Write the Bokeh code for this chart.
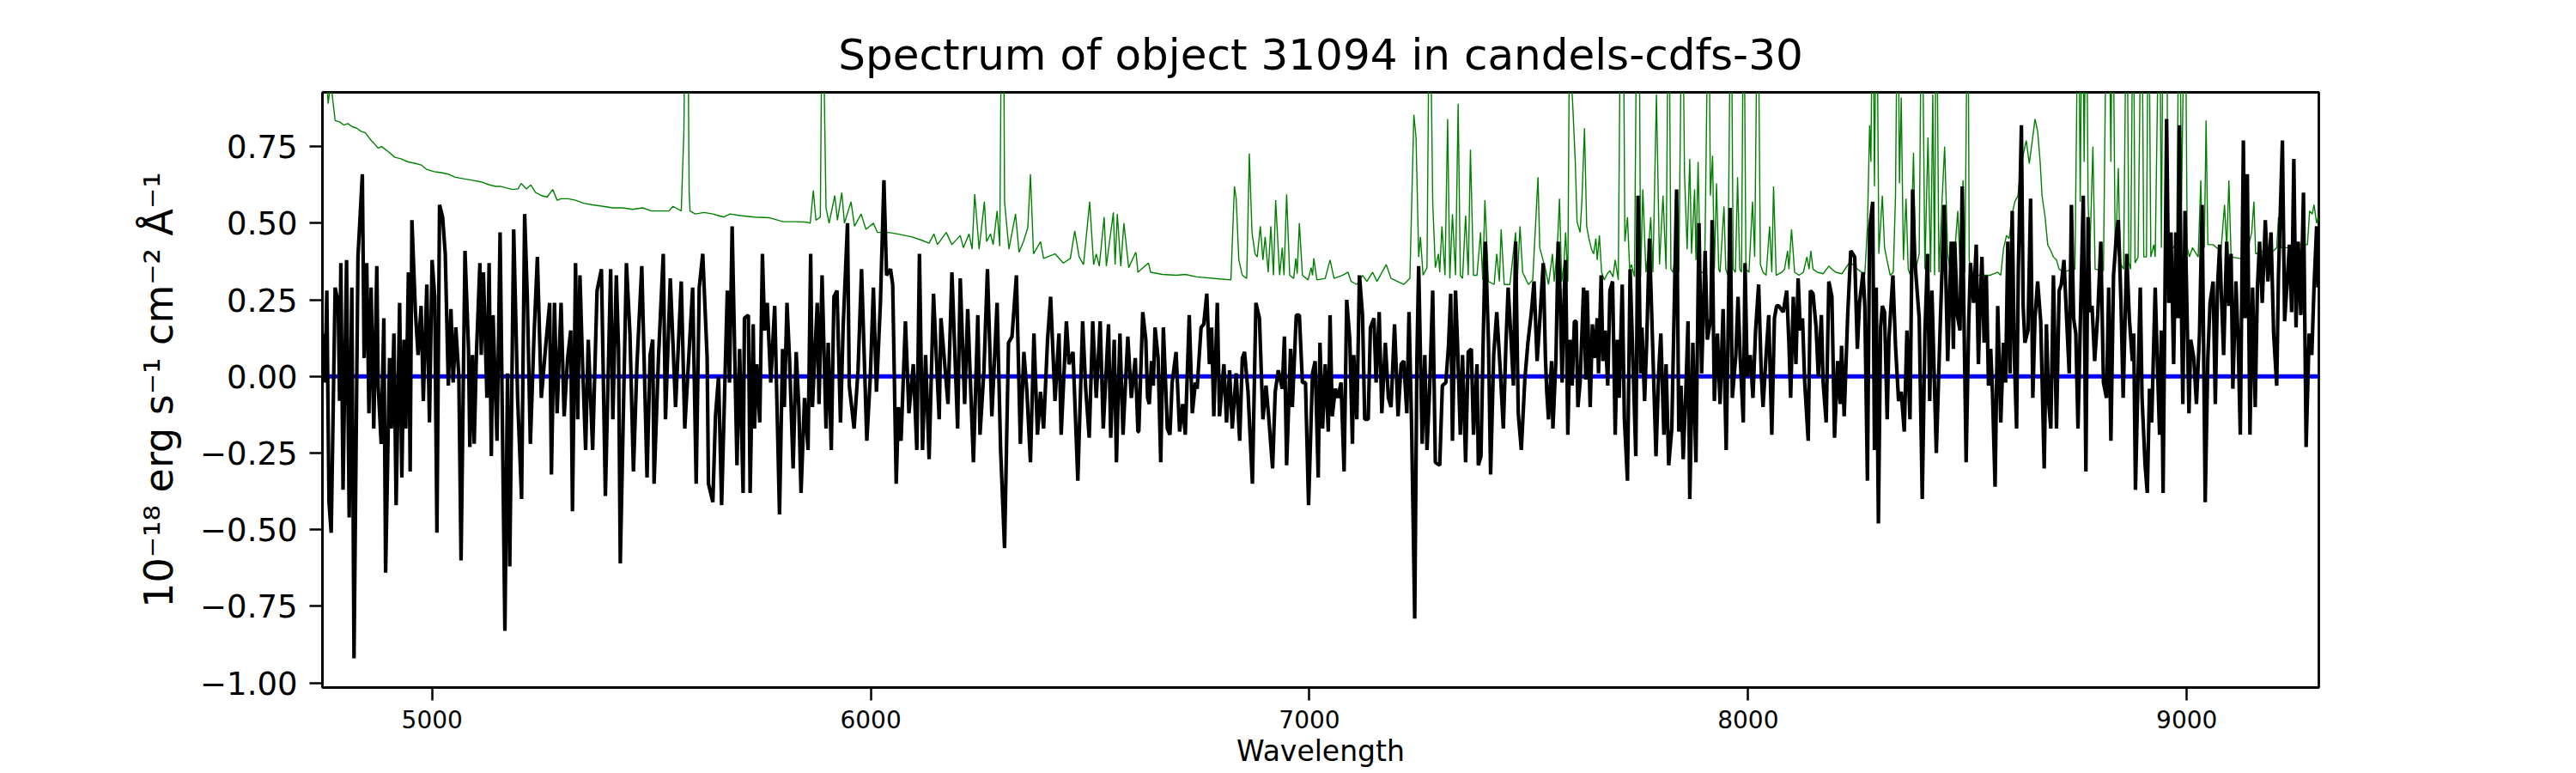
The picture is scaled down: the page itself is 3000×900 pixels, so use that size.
import numpy as np
from bokeh.plotting import figure
from bokeh.models import Range1d, FixedTicker, CustomJSTickFormatter, ColumnDataSource
from bokeh.embed import file_html
from bokeh.resources import INLINE

TITLE = "Spectrum of object 31094 in candels-cdfs-30"
X_LABEL = "Wavelength"
Y_LABEL = "10\u207b\u00b9\u2078 erg s\u207b\u00b9 cm\u207b\u00b2 \u00c5\u207b\u00b9"
X_TICKS = [5000, 6000, 7000, 8000, 9000]
Y_TICKS = [-1.0, -0.75, -0.5, -0.25, 0.0, 0.25, 0.5, 0.75]
X_LIMITS = (4750, 9301)
Y_LIMITS = (-1.015, 0.927)

# object flux (wavelength [A], flux)
flux_4750_5680 = [
(4752,0.14),(4756,-0.02),(4760,0.28),(4765,-0.41),(4770,-0.51),(4779,0.29),(4786,0.24),(4789,-0.08),(4792,0.37),(4797,-0.37),
(4805,0.38),(4811,-0.46),(4817,0.29),(4822,-0.92),(4831,0.39),(4841,0.66),(4845,0.06),(4851,0.37),(4856,-0.12),(4861,0.29),
(4867,-0.17),(4874,0.36),(4877,-0.03),(4884,-0.22),(4890,0.19),(4894,-0.64),(4903,0.06),(4907,-0.17),(4913,0.14),(4918,-0.42),
(4926,0.24),(4931,-0.33),(4936,0.12),(4940,-0.17),(4946,0.34),(4950,-0.31),(4954,0.51),(4962,0.21),(4968,0.07),(4975,0.23),
(4980,-0.08),(4988,0.30),(4994,-0.15),(5000,0.38),(5006,0.26),(5011,-0.51),(5017,0.56),(5024,0.52),(5030,0.40),(5037,-0.03),
(5043,0.22),(5048,-0.02),(5054,0.16),(5061,0.00),(5066,-0.60),(5075,0.41),(5083,0.09),(5086,-0.23),(5092,0.07),(5096,-0.22),
(5101,0.07),(5109,0.37),(5112,0.07),(5117,0.34),(5125,-0.07),(5130,0.37),(5135,-0.26),(5139,0.20),(5148,-0.21),(5155,0.47),
(5166,-0.83),(5172,0.01),(5177,-0.62),(5186,0.48),(5195,-0.07),(5204,-0.40),(5211,0.53),(5217,0.26),(5224,-0.22),(5232,0.12),
(5240,0.39),(5249,-0.07),(5259,0.10),(5268,0.24),(5272,-0.32),(5279,0.24),(5285,-0.12),(5294,0.24),(5301,-0.13),(5309,0.06),
(5316,0.15),(5320,-0.44),(5327,0.37),(5332,-0.14),(5337,0.33),(5343,0.04),(5350,-0.24),(5356,0.12),(5366,-0.24),(5376,0.28),
(5386,0.35),(5395,-0.39),(5407,0.35),(5412,-0.14),(5420,0.33),(5425,0.09),(5429,-0.61),(5443,0.37),(5451,0.14),(5459,-0.31),
(5467,0.04),(5478,0.36),(5490,-0.33),(5497,0.07),(5503,0.12),(5506,-0.35),(5516,0.06),(5527,0.40),(5532,-0.14),(5543,0.32),
(5555,-0.10),(5568,0.31),(5576,-0.17),(5585,0.06),(5594,0.29),(5602,-0.35),(5609,0.29),(5617,0.40),(5627,0.06),(5630,-0.35),
(5640,-0.41),(5646,-0.13),(5653,0.00),(5660,-0.42),(5673,0.28),(5678,-0.02),
]
flux_5680_6610 = [
(5684,0.49),(5695,-0.29),(5701,0.09),(5709,-0.38),(5712,0.19),(5721,0.20),(5725,-0.38),(5732,0.17),(5735,-0.17),(5740,0.04),
(5747,-0.15),(5753,0.40),(5758,0.15),(5764,0.24),(5772,-0.02),(5781,0.23),(5792,-0.45),(5799,0.09),(5803,-0.10),(5809,0.24),
(5815,0.05),(5823,-0.30),(5830,0.08),(5836,-0.10),(5841,-0.38),(5849,-0.07),(5857,-0.24),(5863,0.40),(5867,-0.10),(5878,0.24),
(5882,-0.09),(5889,0.33),(5898,-0.17),(5903,0.11),(5910,-0.24),(5916,0.26),(5923,0.28),(5931,-0.15),(5937,0.16),(5947,0.50),
(5951,-0.03),(5962,-0.17),(5971,0.02),(5979,0.35),(5985,0.07),(5991,-0.21),(5999,0.00),(6006,0.29),(6013,-0.05),(6022,0.24),
(6030,0.64),(6036,0.33),(6045,0.35),(6050,0.30),(6058,-0.35),(6063,-0.10),(6069,-0.21),(6079,0.18),(6087,-0.12),(6097,0.04),
(6105,-0.24),(6111,0.40),(6118,-0.24),(6125,0.07),(6133,-0.27),(6143,0.27),(6156,-0.14),(6160,0.19),(6168,0.05),(6176,-0.09),
(6185,0.34),(6198,-0.17),(6204,0.32),(6214,-0.09),(6221,0.22),(6234,-0.28),(6244,0.20),(6249,-0.19),(6258,0.02),(6266,0.35),
(6276,-0.13),(6288,0.24),(6296,-0.24),(6305,-0.56),(6314,0.11),(6322,0.13),(6332,0.33),(6341,-0.22),(6349,0.08),(6356,-0.05),
(6364,-0.28),(6372,0.14),(6380,-0.19),(6387,-0.05),(6394,-0.17),(6403,0.12),(6410,0.26),(6420,-0.08),(6429,0.14),(6434,-0.19),
(6446,0.18),(6452,0.04),(6461,0.08),(6472,-0.34),(6483,0.18),(6490,-0.04),(6498,-0.20),(6506,0.18),(6514,-0.07),(6523,0.18),
(6530,-0.17),(6542,0.17),(6547,-0.20),(6555,0.12),(6560,-0.28),(6568,0.14),(6575,-0.19),(6586,0.13),(6594,-0.07),(6603,0.06),
(6609,-0.18),
]
flux_6610_7540 = [
(6611,-0.18),(6620,0.21),(6627,0.12),(6631,-0.07),(6635,-0.09),(6640,0.05),(6644,-0.03),(6648,0.16),(6655,0.06),(6661,-0.28),
(6667,0.16),(6672,-0.02),(6676,-0.17),(6682,-0.19),(6687,-0.02),(6696,0.08),(6704,-0.18),(6711,-0.09),(6717,-0.19),(6726,0.20),
(6733,-0.12),(6740,-0.02),(6744,-0.04),(6753,0.16),(6759,0.17),(6766,0.27),(6772,0.04),(6777,0.16),(6782,-0.13),(6790,0.24),
(6795,-0.13),(6805,0.04),(6811,-0.15),(6818,0.02),(6824,-0.17),(6833,0.01),(6841,-0.21),(6847,0.06),(6852,0.08),(6860,-0.05),
(6870,-0.35),(6878,0.24),(6886,0.19),(6894,-0.14),(6901,-0.03),(6907,-0.13),(6916,-0.30),(6922,-0.05),(6929,0.02),(6938,-0.04),
(6943,0.13),(6948,-0.29),(6957,0.09),(6961,-0.10),(6970,0.20),(6977,0.20),(6984,-0.02),(6991,-0.02),(6998,-0.42),(7007,0.01),
(7013,0.05),(7020,-0.33),(7024,0.11),(7030,-0.17),(7036,0.04),(7043,-0.18),(7047,0.20),(7052,-0.13),(7059,-0.04),(7065,-0.07),
(7072,-0.02),(7079,-0.31),(7085,0.25),(7092,0.12),(7098,-0.22),(7101,0.07),(7108,-0.14),(7114,0.33),(7121,0.20),(7126,-0.14),
(7134,-0.14),(7139,0.16),(7147,0.19),(7152,-0.02),(7159,0.21),(7165,-0.12),(7173,0.11),(7180,-0.07),(7186,-0.10),(7194,0.17),
(7202,-0.13),(7209,0.04),(7215,0.05),(7222,-0.12),(7227,0.21),(7233,-0.17),(7240,-0.79),(7245,0.06),(7249,0.36),(7257,-0.22),
(7263,0.07),(7268,-0.24),(7274,-0.04),(7281,0.28),(7287,-0.28),(7297,-0.29),(7303,-0.03),(7311,-0.02),(7317,0.10),(7322,0.27),
(7326,-0.21),(7333,0.28),(7337,0.13),(7344,-0.19),(7349,0.07),(7356,-0.28),(7362,0.08),(7369,0.09),(7374,-0.19),(7382,0.04),
(7385,-0.29),(7391,-0.26),(7396,0.11),(7401,0.44),(7408,0.12),(7413,-0.32),(7420,0.07),(7427,0.21),(7435,0.02),(7442,-0.17),
(7448,0.11),(7453,0.29),(7460,0.11),(7465,-0.03),(7470,0.44),(7476,-0.12),(7483,-0.24),(7491,-0.01),(7498,0.11),(7506,0.21),
(7512,0.31),(7519,0.05),(7525,0.18),(7533,0.37),(7538,0.06),
]
flux_7540_8470 = [
(7541,-0.05),(7545,-0.14),(7552,0.05),(7555,-0.17),(7562,0.06),(7567,0.44),(7571,0.29),(7576,-0.02),(7581,0.28),(7584,0.38),
(7589,-0.19),(7594,0.12),(7599,-0.03),(7604,0.18),(7608,0.18),(7612,-0.10),(7617,-0.02),(7625,0.29),(7630,-0.01),(7633,0.28),
(7640,-0.10),(7645,0.17),(7650,0.06),(7656,0.19),(7659,0.01),(7665,0.33),(7669,0.05),(7674,0.15),(7680,-0.03),(7685,0.28),
(7691,0.31),(7697,-0.19),(7702,0.12),(7706,-0.07),(7713,0.30),(7718,-0.14),(7725,-0.34),(7731,0.35),(7736,0.12),(7744,-0.26),
(7749,0.59),(7755,0.01),(7758,0.16),(7764,-0.08),(7769,0.12),(7775,0.45),(7782,0.12),(7790,-0.26),(7796,0.01),(7801,0.14),
(7808,-0.19),(7813,0.04),(7819,-0.29),(7826,-0.17),(7837,0.61),(7842,-0.18),(7847,-0.03),(7852,-0.27),(7858,-0.05),(7863,0.18),
(7867,-0.40),(7874,0.11),(7881,-0.28),(7888,0.50),(7894,0.01),(7902,0.41),(7907,0.12),(7915,0.19),(7918,0.51),(7923,-0.08),
(7930,0.14),(7936,-0.09),(7943,0.22),(7950,-0.24),(7959,0.55),(7964,-0.07),(7972,0.07),(7977,0.26),(7982,0.06),(7989,-0.15),
(7993,0.37),(7998,0.00),(8005,0.07),(8011,-0.07),(8017,0.15),(8024,0.30),(8030,0.01),(8034,-0.10),(8041,0.07),(8047,0.20),
(8054,-0.19),(8060,0.19),(8065,0.23),(8070,0.23),(8080,0.21),(8088,0.28),(8093,0.11),(8097,-0.07),(8103,0.26),(8109,0.04),
(8114,0.32),(8119,0.15),(8124,0.19),(8129,-0.02),(8137,-0.21),(8142,0.28),(8148,0.27),(8155,0.16),(8160,0.00),(8167,0.20),
(8171,-0.02),(8178,-0.15),(8184,0.31),(8191,0.26),(8197,-0.20),(8204,0.05),(8210,-0.09),(8213,0.10),(8219,-0.13),(8227,0.20),
(8234,0.41),(8243,0.39),(8249,0.09),(8254,0.24),(8262,0.34),(8266,0.23),(8272,-0.34),(8277,0.48),(8284,0.57),(8288,-0.24),
(8292,0.29),(8297,-0.48),(8302,0.16),(8306,0.23),(8311,0.21),(8317,-0.14),(8321,0.12),(8330,0.33),(8336,0.10),(8343,-0.08),
(8349,-0.05),(8356,-0.18),(8362,0.15),(8369,-0.14),(8375,0.61),(8380,0.38),(8390,0.19),(8397,-0.40),(8403,0.14),(8409,0.40),
(8414,-0.08),(8419,0.28),(8429,-0.25),(8438,0.17),(8447,0.56),(8455,0.05),(8463,0.44),(8468,0.09),
]
flux_8470_9300 = [
(8471,0.44),(8477,0.20),(8483,0.15),(8488,0.62),(8492,0.20),(8497,-0.28),(8503,0.18),(8507,0.37),(8514,0.24),(8520,0.43),
(8525,0.04),(8529,0.24),(8533,0.39),(8538,0.11),(8543,0.33),(8548,-0.03),(8553,0.09),(8557,-0.05),(8563,-0.36),(8569,0.23),
(8576,-0.15),(8582,0.11),(8587,-0.02),(8592,0.44),(8597,0.01),(8602,0.54),(8607,0.06),(8612,-0.17),(8616,0.35),(8623,0.82),
(8627,0.23),(8631,0.11),(8638,0.15),(8644,0.58),(8649,-0.07),(8654,0.19),(8660,0.31),(8667,0.18),(8675,-0.30),(8680,0.17),
(8685,-0.08),(8690,-0.17),(8696,0.33),(8703,-0.17),(8709,0.28),(8714,0.30),(8720,0.38),(8726,0.19),(8732,0.01),(8737,0.56),
(8742,0.19),(8747,0.14),(8752,-0.17),(8758,0.22),(8764,0.59),(8770,-0.31),(8775,0.52),(8779,0.21),(8784,0.23),(8790,0.05),
(8797,0.20),(8804,0.44),(8810,-0.02),(8817,-0.07),(8822,0.29),(8827,-0.21),(8833,0.33),(8840,0.47),(8844,0.51),(8850,0.24),
(8855,-0.07),(8863,0.40),(8869,0.19),(8876,0.05),(8879,0.14),(8883,-0.37),(8889,0.01),(8894,0.29),(8898,-0.07),(8905,-0.29),
(8910,-0.38),(8915,-0.04),(8920,-0.15),(8928,0.29),(8933,0.04),(8938,-0.19),(8942,0.15),(8946,-0.38),(8954,0.84),(8959,0.24),
(8964,0.47),(8970,0.04),(8975,0.47),(8980,0.19),(8983,0.82),(8988,0.20),(8991,-0.09),(8996,0.54),(9005,-0.12),(9009,0.12),
(9016,0.06),(9022,-0.09),(9029,0.14),(9035,0.56),(9042,-0.41),(9048,0.06),(9053,0.24),(9060,0.31),(9065,-0.09),(9070,0.29),
(9075,0.43),(9079,0.26),(9084,0.07),(9091,0.44),(9096,0.23),(9101,0.40),(9105,-0.04),(9112,0.31),(9117,0.12),(9122,-0.19),
(9129,0.77),(9133,0.19),(9138,0.66),(9144,-0.19),(9150,0.29),(9156,-0.10),(9161,0.29),(9166,0.44),(9172,0.24),(9179,0.51),
(9185,0.31),(9192,0.47),(9198,0.14),(9205,-0.03),(9209,0.33),(9218,0.77),(9223,0.18),(9228,0.29),(9234,0.43),(9239,0.21),
(9244,0.71),(9249,0.16),(9254,0.44),(9260,0.20),(9266,0.60),(9272,-0.23),(9279,0.14),(9285,0.07),(9290,0.29),(9296,0.49),
(9299,0.29),
]

# noise / sky spectrum (wavelength [A], value); 1.4 marks lines that leave the plot
noise_4750_5680 = [
(4752,1.0),(4760,0.97),(4763,0.89),(4769,0.96),(4779,0.835),(4790,0.83),(4799,0.82),(4808,0.825),(4818,0.815),(4828,0.81),
(4838,0.80),(4848,0.795),(4861,0.77),(4868,0.76),(4877,0.745),(4885,0.75),(4903,0.73),(4915,0.715),(4929,0.71),(4945,0.70),
(4962,0.695),(4975,0.69),(4988,0.675),(5005,0.668),(5021,0.665),(5037,0.66),(5053,0.65),(5072,0.645),(5092,0.64),(5111,0.635),
(5131,0.625),(5145,0.62),(5157,0.62),(5170,0.615),(5184,0.61),(5196,0.612),(5203,0.63),(5215,0.612),(5225,0.625),(5236,0.60),
(5250,0.59),(5262,0.585),(5275,0.61),(5285,0.575),(5294,0.58),(5310,0.58),(5327,0.575),(5345,0.565),(5366,0.56),(5390,0.555),
(5412,0.55),(5435,0.55),(5457,0.545),(5480,0.55),(5500,0.54),(5522,0.54),(5540,0.54),(5549,0.555),(5568,0.54),(5574,0.80),
(5578,1.4),(5582,1.4),(5586,0.60),(5588,0.54),(5600,0.53),(5620,0.535),(5640,0.53),(5653,0.525),(5665,0.52),(5679,0.53),
]
noise_5680_6610 = [
(5702,0.525),(5735,0.52),(5768,0.518),(5800,0.505),(5830,0.505),(5856,0.503),(5862,0.50),(5869,0.607),(5875,0.51),(5885,0.52),
(5890,1.4),(5895,0.83),(5898,0.55),(5905,0.50),(5918,0.59),(5924,0.51),(5934,0.60),(5940,0.50),(5955,0.57),(5963,0.49),
(5978,0.53),(5989,0.48),(6006,0.50),(6015,0.47),(6040,0.47),(6061,0.465),(6094,0.455),(6115,0.445),(6133,0.435),(6144,0.465),
(6152,0.43),(6172,0.47),(6185,0.43),(6204,0.46),(6211,0.42),(6224,0.465),(6231,0.415),(6237,0.595),(6247,0.415),(6259,0.57),
(6264,0.44),(6273,0.465),(6279,0.43),(6288,0.54),(6294,0.425),(6299,1.4),(6302,1.4),(6305,0.57),(6315,0.415),(6330,0.53),
(6338,0.405),(6348,0.44),(6358,0.485),(6364,0.66),(6371,0.40),(6387,0.44),(6394,0.385),(6420,0.40),(6439,0.37),(6455,0.385),
(6465,0.475),(6475,0.39),(6485,0.365),(6499,0.57),(6508,0.365),(6514,0.40),(6521,0.36),(6532,0.52),(6537,0.36),(6553,0.535),
(6557,0.365),(6562,0.53),(6570,0.36),(6577,0.50),(6588,0.355),(6604,0.405),
]
noise_6610_7540 = [
(6605,0.40),(6609,0.34),(6625,0.36),(6633,0.37),(6638,0.34),(6665,0.333),(6697,0.33),(6717,0.333),(6743,0.325),(6795,0.318),
(6821,0.315),(6829,0.62),(6833,0.58),(6839,0.38),(6847,0.33),(6857,0.32),(6863,0.727),(6869,0.47),(6876,0.40),(6881,0.39),
(6888,0.49),(6894,0.38),(6899,0.455),(6906,0.34),(6912,0.49),(6918,0.33),(6923,0.575),(6932,0.33),(6938,0.42),(6942,0.33),
(6948,0.594),(6955,0.33),(6964,0.32),(6969,0.385),(6972,0.335),(6977,0.50),(6984,0.33),(6997,0.315),(7004,0.355),(7007,0.33),
(7010,0.385),(7017,0.315),(7036,0.32),(7047,0.38),(7056,0.32),(7075,0.33),(7088,0.34),(7095,0.31),(7108,0.30),(7121,0.33),
(7131,0.31),(7144,0.34),(7154,0.31),(7175,0.365),(7186,0.32),(7215,0.30),(7229,0.32),(7238,0.854),(7243,0.78),(7249,0.39),
(7253,0.455),(7259,0.33),(7268,0.355),(7274,1.4),(7281,0.57),(7287,0.355),(7294,0.40),(7297,0.34),(7302,0.49),(7309,0.33),
(7315,0.84),(7320,0.32),(7326,0.53),(7333,0.33),(7339,0.89),(7344,0.33),(7349,0.32),(7356,0.525),(7362,0.33),(7367,0.74),
(7374,0.33),(7382,0.33),(7390,0.47),(7395,0.315),(7400,0.575),(7408,0.31),(7421,0.30),(7427,0.40),(7433,0.31),(7437,0.48),
(7444,0.30),(7457,0.30),(7463,0.38),(7470,0.47),(7474,0.315),(7480,0.49),(7486,0.34),(7499,0.30),(7509,0.315),(7521,0.65),
(7525,0.42),(7538,0.35),
]
noise_7540_8470 = [
(7545,0.30),(7554,0.40),(7558,0.31),(7565,0.42),(7570,0.58),(7575,0.31),(7580,0.365),(7584,0.47),(7589,0.31),(7594,1.4),
(7599,0.92),(7602,0.83),(7606,0.70),(7610,0.505),(7617,0.47),(7621,0.57),(7627,0.81),(7632,0.49),(7637,0.45),(7643,0.415),
(7648,0.40),(7653,0.45),(7656,0.38),(7661,0.46),(7666,0.34),(7672,0.315),(7679,0.335),(7685,0.345),(7692,0.325),(7697,0.38),
(7704,0.315),(7710,1.4),(7715,1.4),(7719,0.44),(7725,0.52),(7730,0.35),(7734,0.365),(7741,0.325),(7747,1.4),(7751,1.4),
(7755,0.325),(7760,0.61),(7767,0.34),(7773,0.415),(7778,0.52),(7783,0.34),(7791,0.92),(7798,0.365),(7806,0.59),(7813,0.35),
(7819,1.4),(7824,0.35),(7829,0.34),(7835,0.40),(7842,0.34),(7850,1.4),(7855,0.66),(7861,0.415),(7867,0.71),(7871,0.40),
(7878,0.61),(7881,0.38),(7886,0.70),(7891,0.34),(7901,0.34),(7910,1.4),(7914,0.59),(7919,0.72),(7923,0.35),(7928,0.63),
(7933,0.35),(7936,0.34),(7945,0.555),(7949,0.35),(7954,0.33),(7961,1.4),(7966,0.35),(7971,0.34),(7976,0.65),(7981,0.35),
(7985,0.34),(7990,1.4),(7995,0.35),(8002,0.34),(8010,0.57),(8015,0.39),(8022,1.4),(8028,0.365),(8034,0.34),(8041,0.33),
(8049,0.49),(8054,0.34),(8058,0.62),(8064,0.33),(8077,0.34),(8083,0.35),(8090,0.41),(8093,0.35),(8099,0.48),(8106,0.34),
(8116,0.33),(8126,0.34),(8134,0.39),(8139,0.35),(8143,0.41),(8148,0.35),(8158,0.34),(8171,0.335),(8184,0.36),(8191,0.35),
(8200,0.34),(8214,0.335),(8230,0.37),(8240,0.365),(8249,0.35),(8259,0.34),(8266,0.33),(8272,0.49),(8277,0.82),(8280,0.70),
(8284,1.4),(8288,0.62),(8293,1.4),(8298,0.40),(8306,0.59),(8311,0.42),(8318,0.37),(8324,0.33),(8331,0.34),(8336,0.59),
(8341,1.4),(8345,0.63),(8349,0.91),(8354,0.38),(8360,0.58),(8365,0.35),(8370,0.33),(8377,0.73),(8382,0.35),(8390,0.40),
(8396,1.4),(8403,0.35),(8410,0.78),(8416,0.34),(8421,0.92),(8425,0.33),(8429,1.4),(8435,0.34),(8442,0.57),(8448,0.75),
(8455,0.40),(8461,0.34),
]
noise_8470_9300 = [
(8468,0.35),(8478,0.54),(8483,0.365),(8490,0.64),(8494,0.34),(8501,1.4),(8504,0.38),(8511,0.33),(8533,0.33),(8551,0.33),
(8569,0.34),(8576,0.33),(8582,0.415),(8589,0.46),(8595,0.45),(8602,0.53),(8608,0.57),(8615,0.59),(8621,0.67),(8628,0.73),
(8634,0.77),(8641,0.695),(8647,0.76),(8654,0.84),(8660,0.80),(8666,0.695),(8670,0.59),(8677,0.52),(8683,0.43),(8690,0.41),
(8696,0.39),(8703,0.38),(8709,0.35),(8719,0.34),(8729,0.345),(8745,0.35),(8753,1.4),(8757,0.57),(8762,1.4),(8766,0.70),
(8771,1.4),(8775,0.57),(8779,0.40),(8786,0.75),(8791,0.35),(8810,0.345),(8818,1.4),(8822,1.4),(8827,0.70),(8831,1.4),
(8837,0.37),(8844,0.68),(8848,0.37),(8856,0.35),(8863,1.4),(8868,0.37),(8872,0.35),(8878,1.4),(8882,0.37),(8889,0.39),
(8897,1.4),(8902,0.39),(8908,0.39),(8913,1.4),(8918,0.39),(8925,0.43),(8928,0.39),(8938,1.4),(8942,0.42),(8947,1.4),
(8954,1.4),(8957,0.39),(8964,0.42),(8970,0.42),(8977,0.44),(8983,1.4),(8988,0.57),(8996,1.4),(9001,0.42),(9006,0.39),
(9013,0.42),(9026,0.39),(9032,0.64),(9035,0.44),(9040,0.42),(9044,0.835),(9048,0.43),(9060,0.43),(9068,0.42),(9078,0.41),
(9086,0.56),(9091,0.42),(9096,0.64),(9101,0.39),(9120,0.385),(9137,0.385),(9143,0.44),(9148,0.47),(9153,0.57),(9157,0.40),
(9176,0.41),(9198,0.41),(9205,0.42),(9209,0.52),(9215,0.42),(9234,0.42),(9257,0.43),(9275,0.43),(9280,0.54),(9286,0.53),
(9290,0.56),(9296,0.50),(9299,0.52),
]

ZERO_LEVEL = 0.0


def unpack(*parts):
    pts = sorted(pt for part in parts for pt in part)
    return [p[0] for p in pts], [p[1] for p in pts]


flux_wl, flux_val = unpack(flux_4750_5680, flux_5680_6610, flux_6610_7540, flux_7540_8470, flux_8470_9300)
noise_wl, noise_val = unpack(noise_4750_5680, noise_5680_6610, noise_6610_7540, noise_7540_8470, noise_8470_9300)
zero_wl = [flux_wl[0], flux_wl[-1]]
zero_val = [ZERO_LEVEL, ZERO_LEVEL]

FONT = "DejaVu Sans"

p = figure(
    frame_width=2325, frame_height=693,
    min_border_left=375, min_border_right=292, min_border_top=107, min_border_bottom=92,
    x_range=Range1d(*X_LIMITS), y_range=Range1d(*Y_LIMITS),
    output_backend="svg", toolbar_location=None, title=TITLE,
)
p.background_fill_color = "white"
p.border_fill_color = "white"
p.outline_line_color = "black"
p.outline_line_width = 2.8
p.outline_line_alpha = 1.0
p.xgrid.visible = False
p.ygrid.visible = False

p.title.text_font = FONT
p.title.text_font_size = "50px"
p.title.text_font_style = "normal"
p.title.align = "center"
p.title.text_color = "black"
p.title.standoff = 30

for ax in (p.xaxis[0], p.yaxis[0]):
    ax.major_tick_out = 15
    ax.major_tick_in = 0
    ax.minor_tick_out = 0
    ax.minor_tick_in = 0
    ax.major_tick_line_width = 2.5
    ax.major_tick_line_color = "black"
    ax.axis_line_width = 2.8
    ax.axis_line_color = "black"
    ax.major_label_text_font = FONT
    ax.major_label_text_color = "black"
    ax.axis_label_text_font = FONT
    ax.axis_label_text_font_style = "normal"
    ax.axis_label_text_color = "black"

xa = p.xaxis[0]
xa.ticker = FixedTicker(ticks=X_TICKS)
xa.formatter = CustomJSTickFormatter(code="return tick.toFixed(0);")
xa.major_label_text_font_size = "28px"
xa.major_label_standoff = 11
xa.axis_label = X_LABEL
xa.axis_label_text_font_size = "33px"
xa.axis_label_standoff = 4

ya = p.yaxis[0]
ya.ticker = FixedTicker(ticks=Y_TICKS)
ya.formatter = CustomJSTickFormatter(code="return tick.toFixed(2).replace('-', '\\u2212');")
ya.major_label_text_font_size = "37px"
ya.major_label_standoff = 14
ya.axis_label = Y_LABEL
ya.axis_label_text_font_size = "46px"
ya.axis_label_standoff = 18

noise_src = ColumnDataSource(dict(wl=noise_wl, val=noise_val))
flux_src = ColumnDataSource(dict(wl=flux_wl, val=flux_val))
zero_src = ColumnDataSource(dict(wl=zero_wl, val=zero_val))

p.line("wl", "val", source=noise_src, line_color="green", line_width=1.4)
p.line("wl", "val", source=zero_src, line_color="blue", line_width=5)
p.line("wl", "val", source=flux_src, line_color="black", line_width=4.2)

open("out.html", "w").write(file_html(p, INLINE))
